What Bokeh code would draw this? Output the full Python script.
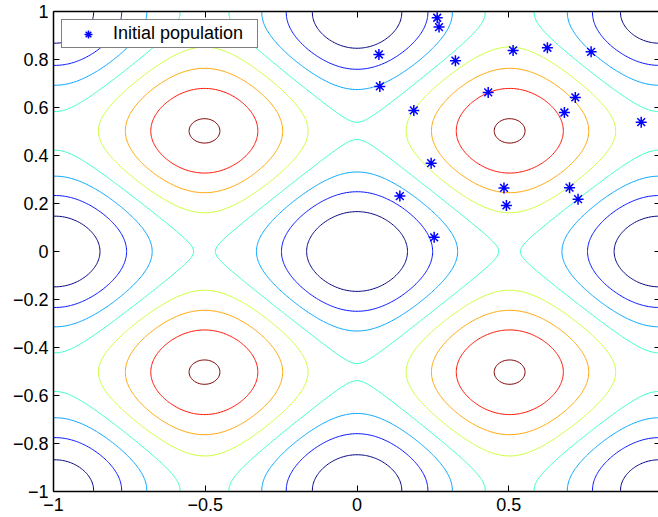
import numpy as np
from bokeh.plotting import figure
from bokeh.models import Range1d, LinearAxis, FixedTicker, CustomJSTickFormatter
from bokeh.embed import file_html
from bokeh.resources import INLINE

# --- data -------------------------------------------------------------
# Rastrigin surface contour levels and their (jet) colours
contour_levels = [5, 10, 15, 20, 25, 30, 35, 40]
contour_colors = ["#000080", "#0012FF", "#00A4FF", "#36FFC9",
                  "#C9FF36", "#FFA400", "#FF1200", "#800000"]

# initial population
pop_x = [0.264, 0.270, 0.072, 0.075, 0.324, 0.187, 0.514, 0.627, 0.771, 0.432,
         0.719, 0.683, 0.936, 0.244, 0.141, 0.484, 0.492, 0.700, 0.728, 0.254]
pop_y = [0.974, 0.935, 0.821, 0.688, 0.795, 0.588, 0.838, 0.849, 0.832, 0.663,
         0.642, 0.579, 0.539, 0.368, 0.231, 0.265, 0.192, 0.266, 0.218, 0.059]

x_ticks = [-1, -0.5, 0, 0.5, 1]
x_tick_labels = ["\u22121", "\u22120.5", "0", "0.5", "1"]
y_ticks = [-1, -0.8, -0.6, -0.4, -0.2, 0, 0.2, 0.4, 0.6, 0.8, 1]
y_tick_labels = ["\u22121", "\u22120.8", "\u22120.6", "\u22120.4", "\u22120.2", "0",
                 "0.2", "0.4", "0.6", "0.8", "1"]

# --- surface ----------------------------------------------------------
gx = np.linspace(-1, 1, 401)
gy = np.linspace(-1, 1, 401)
X, Y = np.meshgrid(gx, gy)
Z = 20 + X**2 + Y**2 - 10 * (np.cos(2 * np.pi * X) + np.cos(2 * np.pi * Y))

FONT = "Liberation Sans"
FS = "18px"

p = figure(width=658, height=517, x_range=Range1d(-1, 0.993), y_range=Range1d(-1, 1),
           output_backend="svg", toolbar_location=None,
           min_border_left=53, min_border_right=0, min_border_top=11, min_border_bottom=26)
p.xgrid.visible = False
p.ygrid.visible = False
p.outline_line_color = None
p.background_fill_color = "white"
p.border_fill_color = "white"

p.contour(gx, gy, Z, levels=contour_levels, line_color=contour_colors, line_width=1)

p.scatter(pop_x, pop_y, marker="asterisk", size=11, line_color="#0000FF",
          line_width=1.5, legend_label="Initial population")

def style_axis(ax, show_labels, show_line=True):
    ax.major_tick_in = 6
    ax.major_tick_out = 0
    ax.minor_tick_in = 0
    ax.minor_tick_out = 0
    ax.major_tick_line_color = "black"
    ax.axis_line_color = "black" if show_line else None
    ax.axis_line_width = 1.5
    ax.major_label_text_font = FONT
    ax.major_label_text_color = "black"
    ax.major_label_text_font_size = FS
    if not show_labels:
        ax.formatter = CustomJSTickFormatter(code="return '';")
        ax.major_label_standoff = 0

xa = p.xaxis[0]
xa.ticker = FixedTicker(ticks=x_ticks)
xa.major_label_overrides = dict(zip(x_ticks, x_tick_labels))
style_axis(xa, True)
xa.major_label_standoff = 6

ya = p.yaxis[0]
ya.ticker = FixedTicker(ticks=y_ticks)
ya.major_label_overrides = dict(zip(y_ticks, y_tick_labels))
style_axis(ya, True)
ya.major_label_standoff = 5

top = LinearAxis(ticker=FixedTicker(ticks=x_ticks))
style_axis(top, False)
p.add_layout(top, "above")

right = LinearAxis(ticker=FixedTicker(ticks=y_ticks))
style_axis(right, False, show_line=False)
right.major_tick_in = 4
p.add_layout(right, "right")

lg = p.legend[0]
lg.location = "top_left"
lg.margin = 8
lg.padding = 3
lg.spacing = 0
lg.glyph_width = 46
lg.glyph_height = 20
lg.label_height = 20
lg.label_width = 141
lg.label_standoff = 2
lg.label_text_font = FONT
lg.label_text_font_size = FS
lg.label_text_color = "black"
lg.border_line_color = "black"
lg.border_line_width = 1
lg.background_fill_color = "white"
lg.background_fill_alpha = 1.0

open("out.html", "w").write(file_html(p, INLINE))
